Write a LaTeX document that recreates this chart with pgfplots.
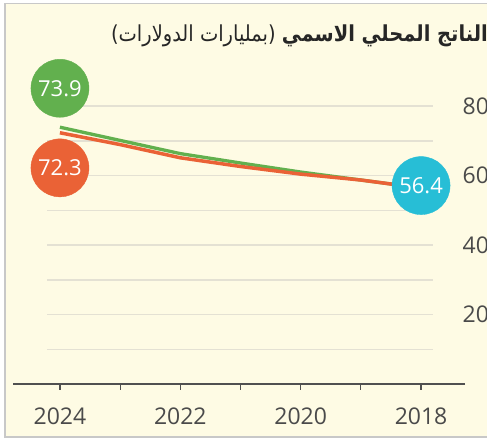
\documentclass[border=0pt]{standalone}
\usepackage{pgfplots}
\pgfplotsset{compat=1.18}
\usepackage{graphicx}
\usepackage{fontspec}
\setmainfont{Open Sans}
\newfontfamily\arabicfont[Script=Arabic]{DejaVu Sans}
\TeXXeTstate=1
\definecolor{bg}{HTML}{FEFBE4}
\definecolor{framegray}{HTML}{C8C8C8}
\definecolor{gridgray}{HTML}{E4E1D3}
\definecolor{axisgray}{HTML}{505050}
\definecolor{labgray}{HTML}{4A4A4A}
\definecolor{cgreen}{HTML}{62B04E}
\definecolor{corange}{HTML}{EA6236}
\definecolor{cblue}{HTML}{27BED6}
\begin{document}
\begin{tikzpicture}
\useasboundingbox (0pt,0pt) rectangle (487pt,440pt);
\fill[white] (0pt,0pt) rectangle (487pt,440pt);
\filldraw[fill=bg, draw=framegray, line width=1.5pt] (5pt,3pt) rectangle (500pt,436.7pt);
\node[anchor=base east, inner sep=0pt, text=black!85] at (488pt,398pt) {\scalebox{0.885}[1]{\arabicfont\fontsize{22}{22}\selectfont\beginR\textbf{الناتج المحلي الاسمي} (بمليارات الدولارات)\endR}};
% grid-only axis
\begin{axis}[at={(47pt,56pt)}, anchor=south west, scale only axis,
  width=386pt, height=284pt, xmin=0, xmax=1, ymin=0, ymax=81.73,
  ytick={10,20,...,80}, xtick=\empty, yticklabels={},
  ymajorgrids, major grid style={gridgray, line width=1.5pt},
  axis line style={draw=none}, major tick length=0pt]
\addplot[draw=none] coordinates {(0,0)};
\end{axis}
\begin{axis}[at={(13pt,56pt)}, anchor=south west, scale only axis,
  width=452pt, height=284pt, x dir=reverse,
  xmin=2017.27, xmax=2024.78, ymin=0, ymax=81.73, clip=false,
  axis x line*=bottom, axis y line*=right,
  y axis line style={draw=none},
  x axis line style={draw=axisgray, line width=1.5pt, -},
  xtick={2018,2019,2020,2021,2022,2023,2024},
  xticklabels={2018,,2020,,2022,,2024},
  ytick={20,40,60,80}, yticklabels={20,40,60,80},
  x tick style={draw=axisgray, line width=1.2pt},
  y tick style={draw=none},
  tick align=outside, major tick length=5.5pt,
  xticklabel style={anchor=base, inner sep=0pt, yshift=-34.5pt, text=labgray, font=\fontsize{23}{23}\selectfont},
  yticklabel style={anchor=west, inner sep=0pt, xshift=-8pt, text=labgray, font=\fontsize{23}{23}\selectfont},
  every node near coord/.style={anchor=center, text=white, font=\fontsize{22}{22}\selectfont},
  nodes near coords={\pgfplotspointmeta}, point meta=explicit symbolic]
\addplot[cgreen, line width=3.3pt, no marks, nodes near coords={}] coordinates {(2024,73.9)(2023,70.1)(2022,66.3)(2021,63.6)(2020,61.0)(2019,58.7)(2018,56.4)};
\addplot[corange, line width=3.5pt, no marks, nodes near coords={}] coordinates {(2024,72.3)(2023,68.9)(2022,65.1)(2021,62.6)(2020,60.4)(2019,58.7)(2018,56.4)};
\addplot[only marks, mark=*, mark size=29pt, color=cgreen] coordinates {(2024,85.1) [73.9]};
\addplot[only marks, mark=*, mark size=29pt, color=corange] coordinates {(2024,62.2) [72.3]};
\addplot[only marks, mark=*, mark size=29pt, color=cblue] coordinates {(2018,57.1) [56.4]};
\end{axis}
\end{tikzpicture}
\end{document}
